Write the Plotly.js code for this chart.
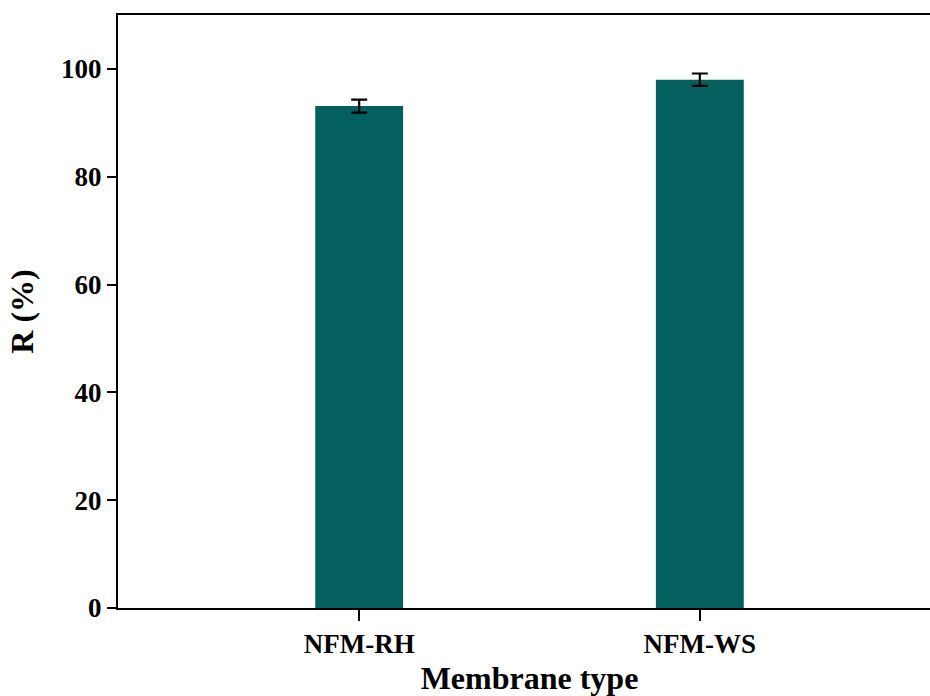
<!DOCTYPE html>
<html>
<head>
<meta charset="utf-8">
<script src="https://cdn.plot.ly/plotly-3.0.1.min.js"></script>
<style>
html,body{margin:0;padding:0;overflow:hidden;background:#fff;width:930px;height:696px;}
#chart{width:960px;height:696px;}
</style>
</head>
<body>
<div id="chart"></div>
<script>
const categories = ["NFM-RH", "NFM-WS"];
const rejection = [93.1, 98.0];
const rejectionErr = [1.2, 1.15];
const yTicks = [0, 20, 40, 60, 80, 100];

const font = "'Liberation Serif', 'Times New Roman', serif";

const trace = {
  type: "bar",
  x: [0, 1],
  y: rejection,
  width: 0.258,
  marker: {color: "#03605e", line: {width: 0}},
  error_y: {type: "data", array: rejectionErr, visible: true, color: "#000", thickness: 2.2, width: 8}
};

const layout = {
  width: 960,
  height: 696,
  margin: {l: 118, r: 19, t: 15, b: 88},
  paper_bgcolor: "#fff",
  plot_bgcolor: "#fff",
  showlegend: false,
  font: {family: font, color: "#000"},
  xaxis: {
    range: [-0.708, 1.708],
    tickvals: [0, 1],
    ticktext: categories,
    showline: true, linecolor: "#000", linewidth: 2, mirror: true,
    ticks: "outside", ticklen: 11, tickwidth: 2, tickcolor: "#000",
    showgrid: false, zeroline: false,
    tickfont: {family: font, size: 27, color: "#000", weight: "bold"},
    title: {text: "<b>Membrane type</b>", font: {family: font, size: 32, color: "#000"}, standoff: 14}
  },
  yaxis: {
    range: [0, 110],
    tickvals: yTicks,
    ticktext: yTicks.map(String),
    showline: true, linecolor: "#000", linewidth: 2, mirror: false,
    ticks: "outside", ticklen: 9, tickwidth: 2, tickcolor: "#000",
    showgrid: false, zeroline: false,
    tickfont: {family: font, size: 27, color: "#000", weight: "bold"},
    title: {text: "<b>R (%)</b>", font: {family: font, size: 32, color: "#000"}, standoff: 18}
  }
};

Plotly.newPlot("chart", [trace], layout, {displayModeBar: false, staticPlot: true});
</script>
</body>
</html>
